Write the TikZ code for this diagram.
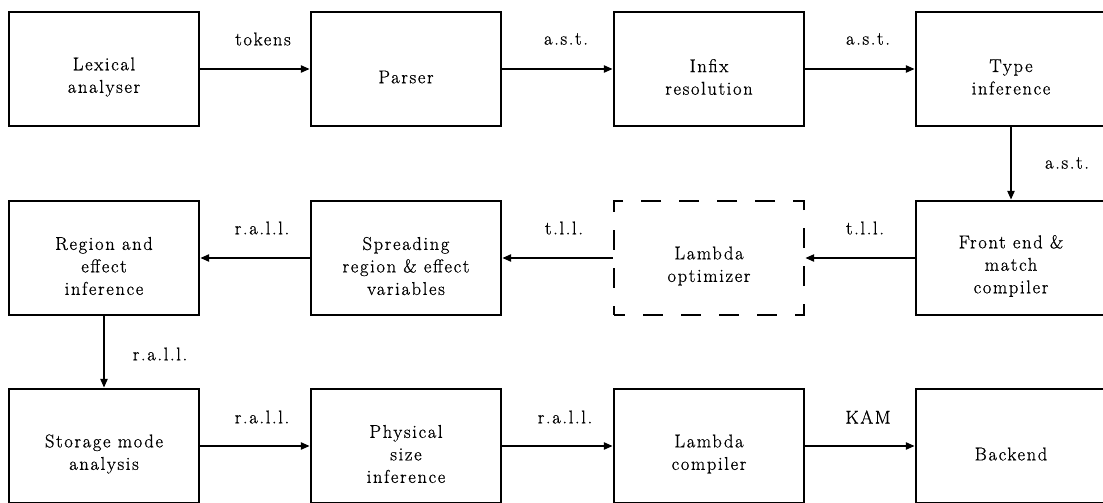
\documentclass[tikz,border=0pt]{standalone}
\usepackage{fontspec}
\setmainfont{Latin Modern Roman}[LetterSpace=9, FakeBold=0.8]
\usetikzlibrary{arrows.meta}

\tikzset{
  captext/.style={inner sep=0pt, align=center, yshift=-8pt,
    font=\fontsize{18.5}{22.5}\selectfont},
  stage/.style={draw, line width=2.4pt, minimum width=190pt, minimum height=114pt,
    inner sep=0pt},
  optstage/.style={stage, dash pattern=on 20pt off 18pt, dash phase=9pt},
  flow/.style={line width=2.4pt, -{Triangle[length=9pt,width=7pt]}},
  flowlabel/.style={inner sep=0pt, font=\fontsize{18.5}{22.5}\selectfont}
}

\begin{document}
\begin{tikzpicture}[x=1pt, y=-1pt]
  \useasboundingbox (0,0) rectangle (1103,503);
  \clip (0,0) rectangle (1103,503);

  % front end row
  \node[stage, label={[captext]center:Lexical\\analyser}]   (lex)   at (104,69)  {};
  \node[stage, label={[captext]center:Parser}]              (parse) at (406,69)  {};
  \node[stage, label={[captext]center:Infix\\resolution}]   (infix) at (709,69)  {};
  \node[stage, label={[captext]center:Type\\inference}]     (type)  at (1011,69) {};

  % middle row (runs right to left)
  \node[stage, label={[captext]center:Front end \&\\match\\compiler}]          (front)  at (1011,258) {};
  \node[optstage, label={[captext]center:Lambda\\optimizer}]                   (lopt)   at (709,258)  {};
  \node[stage, label={[captext]center:Spreading\\region \& effect\\variables}] (spread) at (406,258)  {};
  \node[stage, label={[captext]center:Region and\\effect\\inference}]          (region) at (104,258)  {};

  % back end row
  \node[stage, label={[captext]center:Storage mode\\analysis}] (storage) at (104,446)  {};
  \node[stage, label={[captext]center:Physical\\size\\inference}] (phys) at (406,446)  {};
  \node[stage, label={[captext]center:Lambda\\compiler}]       (lcomp)   at (709,446)  {};
  \node[stage, label={[captext]center:Backend}]                (back)    at (1011,446) {};

  % connectors
  \draw[flow] (lex) -- (parse);
  \draw[flow] (parse) -- (infix);
  \draw[flow] (infix) -- (type);
  \draw[flow] (type) -- (front);
  \draw[flow] (front) -- (lopt);
  \draw[flow] (lopt) -- (spread);
  \draw[flow] (spread) -- (region);
  \draw[flow] (region) -- (storage);
  \draw[flow] (storage) -- (phys);
  \draw[flow] (phys) -- (lcomp);
  \draw[flow] (lcomp) -- (back);

  % connector labels
  \node[flowlabel] (l1)  at (263,39)   {tokens};
  \node[flowlabel] (l2)  at (566,39)   {a.s.t.};
  \node[flowlabel] (l3)  at (868,39)   {a.s.t.};
  \node[flowlabel] (l4)  at (1067,163) {a.s.t.};
  \node[flowlabel] (l5)  at (865,228)  {t.l.l.};
  \node[flowlabel] (l6)  at (564,228)  {t.l.l.};
  \node[flowlabel] (l7)  at (262,228)  {r.a.l.l.};
  \node[flowlabel] (l8)  at (160,354)  {r.a.l.l.};
  \node[flowlabel] (l9)  at (262,417)  {r.a.l.l.};
  \node[flowlabel] (l10) at (565,417)  {r.a.l.l.};
  \node[flowlabel] (l11) at (868,417)  {KAM};
\end{tikzpicture}
\end{document}
